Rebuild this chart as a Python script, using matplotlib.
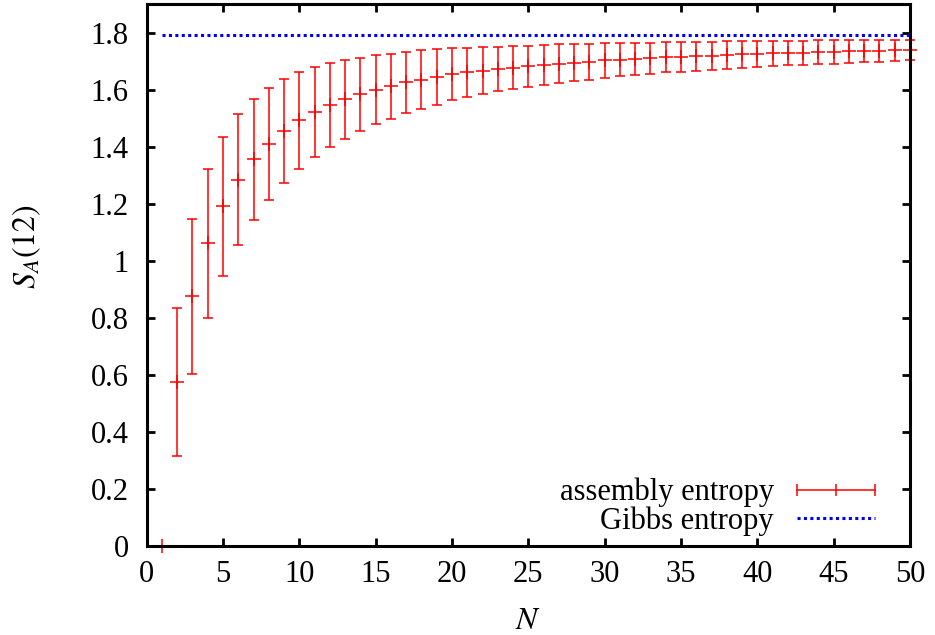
import numpy as np
import matplotlib
matplotlib.use("Agg")
import matplotlib.pyplot as plt
from matplotlib.lines import Line2D
from matplotlib.legend_handler import HandlerLine2D
from matplotlib.ticker import FormatStrFormatter

# ---- data ----
N = list(range(1, 51))
S_assembly = [0.0, 0.575, 0.875, 1.061, 1.190, 1.284, 1.355, 1.410, 1.455, 1.492,
              1.521, 1.545, 1.566, 1.583, 1.600, 1.612, 1.625, 1.635, 1.644, 1.653,
              1.660, 1.666, 1.672, 1.677, 1.681, 1.686, 1.691, 1.694, 1.698, 1.702,
              1.705, 1.707, 1.709, 1.713, 1.714, 1.716, 1.719, 1.721, 1.723, 1.725,
              1.727, 1.728, 1.729, 1.731, 1.733, 1.734, 1.735, 1.736, 1.737, 1.738]
S_err = [0.0, 0.260, 0.272, 0.262, 0.245, 0.229, 0.212, 0.197, 0.183, 0.170,
         0.158, 0.148, 0.138, 0.129, 0.121, 0.114, 0.108, 0.102, 0.097, 0.091,
         0.086, 0.082, 0.078, 0.076, 0.072, 0.069, 0.067, 0.065, 0.063, 0.062,
         0.059, 0.056, 0.053, 0.053, 0.051, 0.050, 0.049, 0.048, 0.046, 0.046,
         0.044, 0.043, 0.042, 0.042, 0.042, 0.040, 0.039, 0.039, 0.037, 0.036]
gibbs = 1.792
xticks = [0, 5, 10, 15, 20, 25, 30, 35, 40, 45, 50]
yticks = [0, 0.2, 0.4, 0.6, 0.8, 1.0, 1.2, 1.4, 1.6, 1.8]
label_assembly = "assembly entropy"
label_gibbs = "Gibbs entropy"

FS = 22
plt.rcParams['font.family'] = ['Liberation Serif', 'DejaVu Serif']
plt.rcParams['mathtext.fontset'] = 'stix'
plt.rcParams['font.size'] = FS

fig = plt.figure(figsize=(9.35, 6.35), dpi=100)
ax = fig.add_axes([146.7/935, (635-545.7)/635, (910-146.7)/935, (545.7-4)/635])

red = '#ff0000'
blue = '#0000ff'

cont = ax.errorbar(N, S_assembly, yerr=S_err, fmt='+', color=red, ms=9.5, mew=1.1,
                   elinewidth=1.1, capsize=3.3, capthick=1.1, zorder=3)
cont.lines[0].set_clip_on(False)
for art in cont.lines[1]:
    art.set_clip_on(False)
for art in cont.lines[2]:
    art.set_clip_on(False)

ax.hlines(gibbs, N[0], N[-1], colors=blue, linewidth=2.2,
          linestyles=[(0, (1, 1.1))], zorder=3)

ax.set_xlim(0, 50)
ax.set_ylim(0, 1.9)
ax.set_xticks(xticks)
ax.set_yticks(yticks)
ax.yaxis.set_major_formatter(FormatStrFormatter('%g'))
ax.tick_params(direction='in', length=5.5, width=2.0, top=True, right=True,
               labelsize=FS)
ax.tick_params(axis='x', pad=10)
ax.tick_params(axis='y', pad=13)
for sp in ax.spines.values():
    sp.set_linewidth(2.2)
    sp.set_zorder(4)

ax.set_xlabel(r'$N$', fontsize=FS + 1)
ax.set_ylabel(r'$S_A(12)$', fontsize=FS + 1)
ax.xaxis.set_label_coords(0.5, -0.113)
ax.yaxis.set_label_coords(-0.136, 0.552)

# legend: two single-entry legends, right-aligned like the original
h_asm = Line2D([], [], color=red, lw=1.1, marker='|', ms=9, mew=1.1)
h_gib = Line2D([], [], color=blue, lw=2.2, linestyle=(0, (1, 1.1)))
common = dict(loc='center right', frameon=False, markerfirst=False,
              handlelength=2.55, handletextpad=0.75, borderpad=0, borderaxespad=0,
              fontsize=FS)
leg1 = ax.legend([h_asm], [label_assembly], bbox_to_anchor=(0.954, 0.098),
                 handler_map={h_asm: HandlerLine2D(numpoints=3, marker_pad=0)},
                 **common)
ax.add_artist(leg1)
leg2 = ax.legend([h_gib], [label_gibbs], bbox_to_anchor=(0.954, 0.046), **common)

fig.savefig('out.png', dpi=100)
